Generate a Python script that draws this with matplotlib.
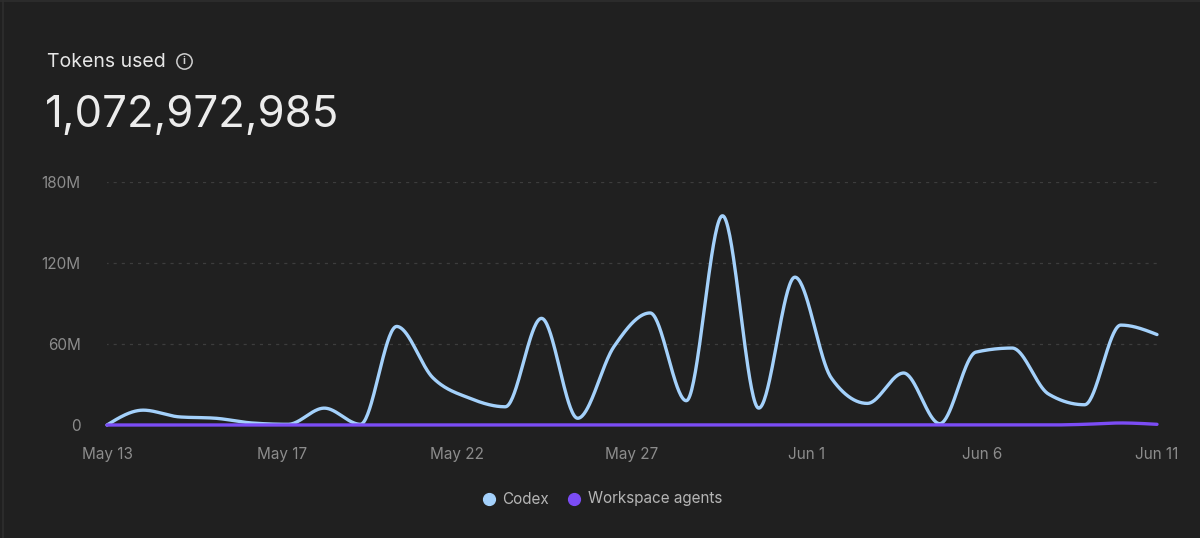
import numpy as np
import matplotlib
matplotlib.use("Agg")
import matplotlib.pyplot as plt
from matplotlib.lines import Line2D
from matplotlib.patches import Rectangle

# ---------------- data ----------------
dates = ["May 13", "May 14", "May 15", "May 16", "May 17", "May 18", "May 19", "May 20",
         "May 21", "May 22", "May 23", "May 24", "May 25", "May 26", "May 27", "May 28",
         "May 29", "May 30", "May 31", "Jun 1", "Jun 2", "Jun 3", "Jun 4", "Jun 5",
         "Jun 6", "Jun 7", "Jun 8", "Jun 9", "Jun 10", "Jun 11"]
codex = [0, 11, 6, 5, 1.5, 0.5, 12.5, 0.5, 73, 35, 20, 13.5, 79, 5, 58, 83, 18, 155,
         12.5, 109.5, 35, 16, 38.5, 1, 54, 57, 23, 15, 74, 67]  # millions
workspace = [0, 0, 0, 0, 0, 0, 0, 0, 0, 0, 0, 0, 0, 0, 0, 0, 0, 0, 0, 0, 0, 0, 0, 0,
             0, 0, 0, 0.5, 1.5, 0.5]  # millions
series_names = ["Codex", "Workspace agents"]
series_colors = ["#a4d1fb", "#7b4cf5"]
y_ticks = [0, 60, 120, 180]
y_tick_labels = ["0", "60M", "120M", "180M"]
x_tick_labels = ["May 13", "May 17", "May 22", "May 27", "Jun 1", "Jun 6", "Jun 11"]
title = "Tokens used"
total_label = "1,072,972,985"

# ---------------- helpers ----------------
def monotone_x(x, y, n=40):
    """d3 curveMonotoneX style interpolation for drawing."""
    x = np.asarray(x, float); y = np.asarray(y, float)
    h = np.diff(x); s = np.diff(y) / h
    m = np.zeros_like(y)
    for i in range(1, len(x) - 1):
        s0, s1 = s[i - 1], s[i]
        p = (s0 * h[i] + s1 * h[i - 1]) / (h[i - 1] + h[i])
        m[i] = (np.sign(s0) + np.sign(s1)) * min(abs(s0), abs(s1), 0.5 * abs(p))
    m[0] = (3 * s[0] - m[1]) / 2
    m[-1] = (3 * s[-1] - m[-2]) / 2
    xs, ys = [], []
    for i in range(len(x) - 1):
        t = np.linspace(0, 1, n, endpoint=(i == len(x) - 2))
        h00 = 2 * t**3 - 3 * t**2 + 1
        h10 = t**3 - 2 * t**2 + t
        h01 = -2 * t**3 + 3 * t**2
        h11 = t**3 - t**2
        xs.append(x[i] + t * h[i])
        ys.append(h00 * y[i] + h10 * h[i] * m[i] + h01 * y[i + 1] + h11 * h[i] * m[i + 1])
    return np.concatenate(xs), np.concatenate(ys)

W, H = 1200, 538
BG = "#202020"
plt.rcParams['font.family'] = ['Inter', 'DejaVu Sans']

fig = plt.figure(figsize=(W / 100, H / 100), dpi=100, facecolor=BG)

def fx(px):
    return px / W

def fy(py):
    return 1 - py / H

# card border (top and left edges visible)
fig.add_artist(Line2D([fx(2.5), fx(2.5)], [fy(0), fy(538)], color="#2e2e2e",
                      linewidth=1.2, transform=fig.transFigure))
fig.add_artist(Line2D([fx(0), fx(1200)], [fy(1), fy(1)], color="#2e2e2e",
                      linewidth=1.2, transform=fig.transFigure))

# axes
left, right, top, bottom = 107, 1157, 182, 425
ax = fig.add_axes([fx(left), fy(bottom), fx(right - left), fy(top) - fy(bottom)])
ax.set_facecolor(BG)
for sp in ax.spines.values():
    sp.set_visible(False)

xi = np.arange(len(dates))
for vals, color, z in [(codex, series_colors[0], 3), (workspace, series_colors[1], 4)]:
    cx, cy = monotone_x(xi, vals)
    ax.plot(cx, cy, color=color, linewidth=2.4, solid_capstyle="round", zorder=z, clip_on=False)

ax.set_xlim(0, len(dates) - 1)
ax.set_ylim(0, 180)

for yt in y_ticks[1:]:
    ax.axhline(yt, color="#3d3d3d", linewidth=0.9, linestyle=(0, (2.5, 4)), zorder=1,
               xmin=-0.002, xmax=1)

ax.set_yticks(y_ticks)
ax.set_yticklabels(y_tick_labels)
tick_pos = np.linspace(0, len(dates) - 1, len(x_tick_labels))
ax.set_xticks(tick_pos)
ax.set_xticklabels(x_tick_labels)
ax.tick_params(axis="both", length=0, colors="#8c8c8c", labelsize=11)
ax.tick_params(axis="y", pad=19)
ax.tick_params(axis="x", pad=16)

# title, total, info icon
fig.text(fx(47), fy(67), title, color="#e6e6e6", fontsize=14, ha="left", va="baseline")
fig.text(fx(45), fy(127), total_label, color="#ececec", fontsize=31.5, ha="left", va="baseline")
fig.add_artist(Line2D([fx(184)], [fy(60.5)], marker="o", markersize=11, fillstyle="none",
                      markeredgecolor="#cfcfcf", markeredgewidth=1.1, linestyle="none",
                      transform=fig.transFigure))
fig.text(fx(184), fy(60.5), "i", color="#cfcfcf", fontsize=7.5, ha="center", va="center",
         fontweight="bold")

# legend
legend_items = [(489, 502), (574, 588)]
for (dot_x, text_x), name, color in zip(legend_items, series_names, series_colors):
    fig.add_artist(Line2D([fx(dot_x)], [fy(499)], marker="o", markersize=8.5,
                          color=color, linestyle="none", transform=fig.transFigure))
    fig.text(fx(text_x), fy(499), name, color="#b5b5b5", fontsize=11, ha="left", va="center")

fig.savefig("out.png", dpi=100, facecolor=BG)
